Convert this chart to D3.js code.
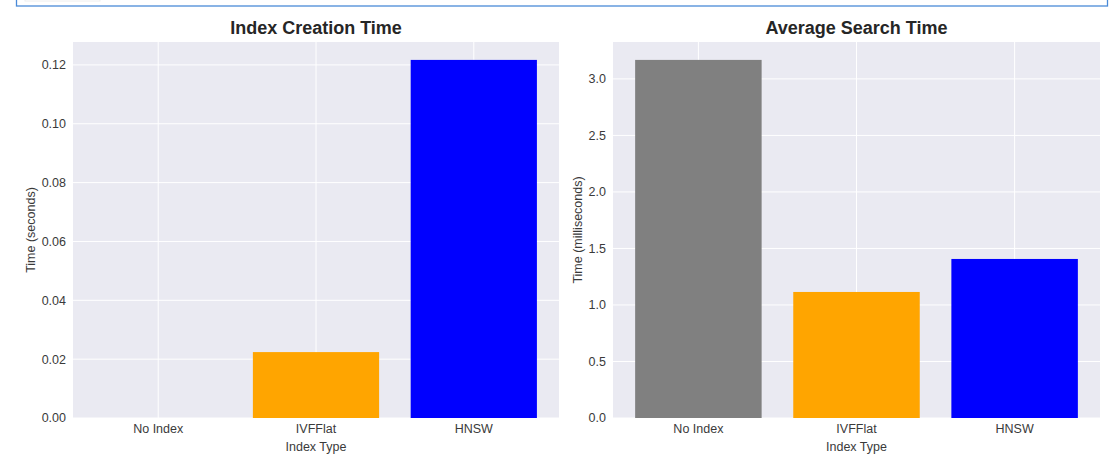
<!DOCTYPE html>
<html>
<head>
<meta charset="utf-8">
<script src="https://cdn.jsdelivr.net/npm/d3@7"></script>
<style>
  body { margin: 0; background: #fff; }
  svg { display: block; font-family: "Liberation Sans", Arial, sans-serif; }
</style>
</head>
<body>
<div id="chart"></div>
<script>
// data
var indexTypes = ["No Index", "IVFFlat", "HNSW"];
var barColors = ["#808080", "#FFA500", "#0000FF"];
var creationTimes = [0, 0.0224, 0.1217];      // seconds
var searchTimes = [3.168, 1.115, 1.407];      // milliseconds
var creationTicks = [0, 0.02, 0.04, 0.06, 0.08, 0.10, 0.12];
var searchTicks = [0, 0.5, 1.0, 1.5, 2.0, 2.5, 3.0];

var W = 1112, H = 475;

var svg = d3.select("#chart")
  .append("svg")
    .attr("width", W)
    .attr("height", H);

// the box cut off at the top of the page
svg.append("rect")
  .attr("x", 16.5).attr("y", -10)
  .attr("width", 1091).attr("height", 16)
  .attr("fill", "#fff")
  .attr("stroke", "#4a8ad8")
  .attr("stroke-width", 1.3);
svg.append("rect")
  .attr("x", 25).attr("y", -4)
  .attr("width", 75).attr("height", 5)
  .attr("fill", "#fff")
  .attr("stroke", "#eee");

var panelH = 376, plotTop = 42;

function drawPanel(left, width, labelX, title, yLabel, values, ticks, fmt) {
  var g = svg.append("g")
    .attr("transform", "translate(" + left + "," + plotTop + ")");

  // matplotlib style: bars at 0,1,2 width .8, 5% margins
  var x = d3.scaleLinear().domain([-0.54, 2.54]).range([0, width]);
  var maxV = d3.max(values);
  var y = d3.scaleLinear().domain([0, maxV * 1.05]).range([panelH, 0]);

  g.append("rect")
    .attr("width", width).attr("height", panelH)
    .attr("fill", "#EAEAF2");

  // grid
  g.selectAll(".hgrid")
    .data(ticks)
    .enter().append("line")
      .attr("x1", 0).attr("x2", width)
      .attr("y1", function(d) { return y(d); })
      .attr("y2", function(d) { return y(d); })
      .attr("stroke", "#fff").attr("stroke-width", 1);
  g.selectAll(".vgrid")
    .data(indexTypes)
    .enter().append("line")
      .attr("x1", function(d, i) { return x(i); })
      .attr("x2", function(d, i) { return x(i); })
      .attr("y1", 0).attr("y2", panelH)
      .attr("stroke", "#fff").attr("stroke-width", 1);

  // bars
  g.selectAll(".bar")
    .data(values)
    .enter().append("rect")
      .attr("x", function(d, i) { return x(i - 0.4); })
      .attr("width", function(d, i) { return x(i + 0.4) - x(i - 0.4); })
      .attr("y", function(d) { return y(d); })
      .attr("height", function(d) { return panelH - y(d); })
      .attr("fill", function(d, i) { return barColors[i]; });

  // tick labels
  g.selectAll(".ylab")
    .data(ticks)
    .enter().append("text")
      .attr("x", -7)
      .attr("y", function(d) { return y(d); })
      .attr("dy", "0.35em")
      .attr("text-anchor", "end")
      .attr("font-size", 12.5)
      .attr("fill", "#3a3a3a")
      .text(fmt);
  g.selectAll(".xlab")
    .data(indexTypes)
    .enter().append("text")
      .attr("x", function(d, i) { return x(i); })
      .attr("y", panelH + 15)
      .attr("text-anchor", "middle")
      .attr("font-size", 12.5)
      .attr("fill", "#3a3a3a")
      .text(function(d) { return d; });

  // axis labels
  g.append("text")
    .attr("x", width / 2).attr("y", panelH + 33)
    .attr("text-anchor", "middle")
    .attr("font-size", 12.5).attr("fill", "#3a3a3a")
    .text("Index Type");
  g.append("text")
    .attr("transform", "translate(" + (labelX - left) + "," + (panelH / 2) + ") rotate(-90)")
    .attr("text-anchor", "middle")
    .attr("font-size", 12.5).attr("fill", "#3a3a3a")
    .text(yLabel);

  // title
  g.append("text")
    .attr("x", width / 2).attr("y", -8)
    .attr("text-anchor", "middle")
    .attr("font-size", 18).attr("font-weight", "bold")
    .attr("fill", "#262626")
    .text(title);
}

drawPanel(73, 486, 35, "Index Creation Time", "Time (seconds)", creationTimes, creationTicks, d3.format(".2f"));
drawPanel(613, 487, 582, "Average Search Time", "Time (milliseconds)", searchTimes, searchTicks, d3.format(".1f"));
</script>
</body>
</html>
